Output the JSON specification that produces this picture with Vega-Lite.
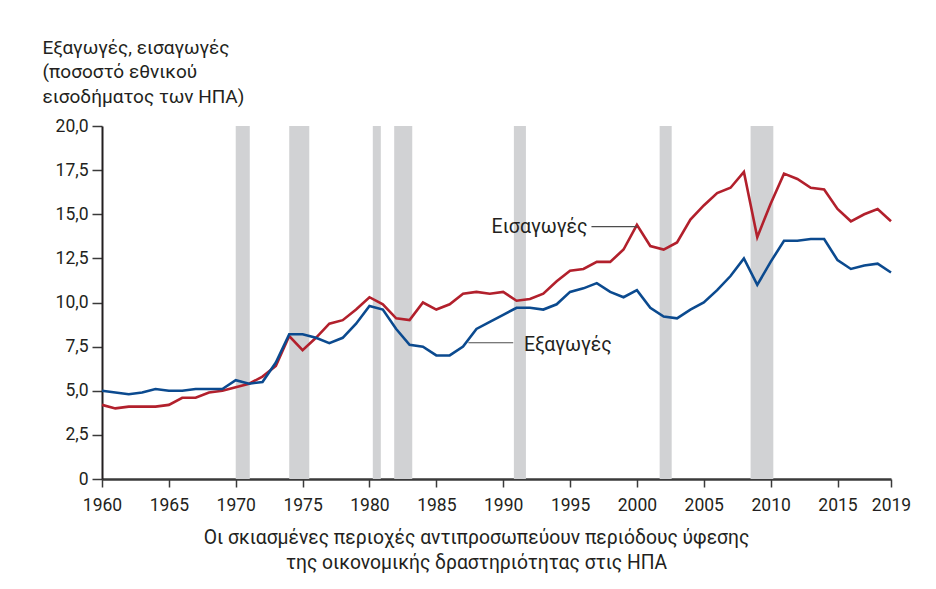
{
  "$schema": "https://vega.github.io/schema/vega-lite/v6.json",
  "width": 789,
  "height": 353,
  "autosize": {"type": "none"},
  "padding": {"left": 102, "top": 126, "right": 45, "bottom": 110},
  "background": "white",
  "config": {
    "view": {"stroke": null},
    "font": "Roboto",
    "axis": {"grid": false, "labelFont": "Roboto", "titleFont": "Roboto", "labelColor": "#231f20", "titleColor": "#231f20", "titleFontWeight": "normal"}
  },
  "datasets": {
    "rec": [
      {"start": 1970.0, "end": 1971.05},
      {"start": 1974.0, "end": 1975.5},
      {"start": 1980.25, "end": 1980.85},
      {"start": 1981.85, "end": 1983.2},
      {"start": 1990.8, "end": 1991.7},
      {"start": 2001.7, "end": 2002.6},
      {"start": 2008.5, "end": 2010.2}
    ],
    "series": [
      {"year": 1960, "s": "Εισαγωγές", "v": 4.2}, {"year": 1961, "s": "Εισαγωγές", "v": 4.0}, {"year": 1962, "s": "Εισαγωγές", "v": 4.1}, {"year": 1963, "s": "Εισαγωγές", "v": 4.1}, {"year": 1964, "s": "Εισαγωγές", "v": 4.1}, {"year": 1965, "s": "Εισαγωγές", "v": 4.2}, {"year": 1966, "s": "Εισαγωγές", "v": 4.6}, {"year": 1967, "s": "Εισαγωγές", "v": 4.6}, {"year": 1968, "s": "Εισαγωγές", "v": 4.9}, {"year": 1969, "s": "Εισαγωγές", "v": 5.0},
      {"year": 1970, "s": "Εισαγωγές", "v": 5.2}, {"year": 1971, "s": "Εισαγωγές", "v": 5.4}, {"year": 1972, "s": "Εισαγωγές", "v": 5.8}, {"year": 1973, "s": "Εισαγωγές", "v": 6.4}, {"year": 1974, "s": "Εισαγωγές", "v": 8.1}, {"year": 1975, "s": "Εισαγωγές", "v": 7.3}, {"year": 1976, "s": "Εισαγωγές", "v": 8.0}, {"year": 1977, "s": "Εισαγωγές", "v": 8.8}, {"year": 1978, "s": "Εισαγωγές", "v": 9.0}, {"year": 1979, "s": "Εισαγωγές", "v": 9.6},
      {"year": 1980, "s": "Εισαγωγές", "v": 10.3}, {"year": 1981, "s": "Εισαγωγές", "v": 9.9}, {"year": 1982, "s": "Εισαγωγές", "v": 9.1}, {"year": 1983, "s": "Εισαγωγές", "v": 9.0}, {"year": 1984, "s": "Εισαγωγές", "v": 10.0}, {"year": 1985, "s": "Εισαγωγές", "v": 9.6}, {"year": 1986, "s": "Εισαγωγές", "v": 9.9}, {"year": 1987, "s": "Εισαγωγές", "v": 10.5}, {"year": 1988, "s": "Εισαγωγές", "v": 10.6}, {"year": 1989, "s": "Εισαγωγές", "v": 10.5},
      {"year": 1990, "s": "Εισαγωγές", "v": 10.6}, {"year": 1991, "s": "Εισαγωγές", "v": 10.1}, {"year": 1992, "s": "Εισαγωγές", "v": 10.2}, {"year": 1993, "s": "Εισαγωγές", "v": 10.5}, {"year": 1994, "s": "Εισαγωγές", "v": 11.2}, {"year": 1995, "s": "Εισαγωγές", "v": 11.8}, {"year": 1996, "s": "Εισαγωγές", "v": 11.9}, {"year": 1997, "s": "Εισαγωγές", "v": 12.3}, {"year": 1998, "s": "Εισαγωγές", "v": 12.3}, {"year": 1999, "s": "Εισαγωγές", "v": 13.0},
      {"year": 2000, "s": "Εισαγωγές", "v": 14.4}, {"year": 2001, "s": "Εισαγωγές", "v": 13.2}, {"year": 2002, "s": "Εισαγωγές", "v": 13.0}, {"year": 2003, "s": "Εισαγωγές", "v": 13.4}, {"year": 2004, "s": "Εισαγωγές", "v": 14.7}, {"year": 2005, "s": "Εισαγωγές", "v": 15.5}, {"year": 2006, "s": "Εισαγωγές", "v": 16.2}, {"year": 2007, "s": "Εισαγωγές", "v": 16.5}, {"year": 2008, "s": "Εισαγωγές", "v": 17.4}, {"year": 2009, "s": "Εισαγωγές", "v": 13.7},
      {"year": 2010, "s": "Εισαγωγές", "v": 15.6}, {"year": 2011, "s": "Εισαγωγές", "v": 17.3}, {"year": 2012, "s": "Εισαγωγές", "v": 17.0}, {"year": 2013, "s": "Εισαγωγές", "v": 16.5}, {"year": 2014, "s": "Εισαγωγές", "v": 16.4}, {"year": 2015, "s": "Εισαγωγές", "v": 15.3}, {"year": 2016, "s": "Εισαγωγές", "v": 14.6}, {"year": 2017, "s": "Εισαγωγές", "v": 15.0}, {"year": 2018, "s": "Εισαγωγές", "v": 15.3}, {"year": 2019, "s": "Εισαγωγές", "v": 14.6},
      {"year": 1960, "s": "Εξαγωγές", "v": 5.0}, {"year": 1961, "s": "Εξαγωγές", "v": 4.9}, {"year": 1962, "s": "Εξαγωγές", "v": 4.8}, {"year": 1963, "s": "Εξαγωγές", "v": 4.9}, {"year": 1964, "s": "Εξαγωγές", "v": 5.1}, {"year": 1965, "s": "Εξαγωγές", "v": 5.0}, {"year": 1966, "s": "Εξαγωγές", "v": 5.0}, {"year": 1967, "s": "Εξαγωγές", "v": 5.1}, {"year": 1968, "s": "Εξαγωγές", "v": 5.1}, {"year": 1969, "s": "Εξαγωγές", "v": 5.1},
      {"year": 1970, "s": "Εξαγωγές", "v": 5.6}, {"year": 1971, "s": "Εξαγωγές", "v": 5.4}, {"year": 1972, "s": "Εξαγωγές", "v": 5.5}, {"year": 1973, "s": "Εξαγωγές", "v": 6.6}, {"year": 1974, "s": "Εξαγωγές", "v": 8.2}, {"year": 1975, "s": "Εξαγωγές", "v": 8.2}, {"year": 1976, "s": "Εξαγωγές", "v": 8.0}, {"year": 1977, "s": "Εξαγωγές", "v": 7.7}, {"year": 1978, "s": "Εξαγωγές", "v": 8.0}, {"year": 1979, "s": "Εξαγωγές", "v": 8.8},
      {"year": 1980, "s": "Εξαγωγές", "v": 9.8}, {"year": 1981, "s": "Εξαγωγές", "v": 9.6}, {"year": 1982, "s": "Εξαγωγές", "v": 8.5}, {"year": 1983, "s": "Εξαγωγές", "v": 7.6}, {"year": 1984, "s": "Εξαγωγές", "v": 7.5}, {"year": 1985, "s": "Εξαγωγές", "v": 7.0}, {"year": 1986, "s": "Εξαγωγές", "v": 7.0}, {"year": 1987, "s": "Εξαγωγές", "v": 7.5}, {"year": 1988, "s": "Εξαγωγές", "v": 8.5}, {"year": 1989, "s": "Εξαγωγές", "v": 8.9},
      {"year": 1990, "s": "Εξαγωγές", "v": 9.3}, {"year": 1991, "s": "Εξαγωγές", "v": 9.7}, {"year": 1992, "s": "Εξαγωγές", "v": 9.7}, {"year": 1993, "s": "Εξαγωγές", "v": 9.6}, {"year": 1994, "s": "Εξαγωγές", "v": 9.9}, {"year": 1995, "s": "Εξαγωγές", "v": 10.6}, {"year": 1996, "s": "Εξαγωγές", "v": 10.8}, {"year": 1997, "s": "Εξαγωγές", "v": 11.1}, {"year": 1998, "s": "Εξαγωγές", "v": 10.6}, {"year": 1999, "s": "Εξαγωγές", "v": 10.3},
      {"year": 2000, "s": "Εξαγωγές", "v": 10.7}, {"year": 2001, "s": "Εξαγωγές", "v": 9.7}, {"year": 2002, "s": "Εξαγωγές", "v": 9.2}, {"year": 2003, "s": "Εξαγωγές", "v": 9.1}, {"year": 2004, "s": "Εξαγωγές", "v": 9.6}, {"year": 2005, "s": "Εξαγωγές", "v": 10.0}, {"year": 2006, "s": "Εξαγωγές", "v": 10.7}, {"year": 2007, "s": "Εξαγωγές", "v": 11.5}, {"year": 2008, "s": "Εξαγωγές", "v": 12.5}, {"year": 2009, "s": "Εξαγωγές", "v": 11.0},
      {"year": 2010, "s": "Εξαγωγές", "v": 12.3}, {"year": 2011, "s": "Εξαγωγές", "v": 13.5}, {"year": 2012, "s": "Εξαγωγές", "v": 13.5}, {"year": 2013, "s": "Εξαγωγές", "v": 13.6}, {"year": 2014, "s": "Εξαγωγές", "v": 13.6}, {"year": 2015, "s": "Εξαγωγές", "v": 12.4}, {"year": 2016, "s": "Εξαγωγές", "v": 11.9}, {"year": 2017, "s": "Εξαγωγές", "v": 12.1}, {"year": 2018, "s": "Εξαγωγές", "v": 12.2}, {"year": 2019, "s": "Εξαγωγές", "v": 11.7}
    ],
    "leaders": [
      {"x": 1996.6, "x2": 2000.0, "y": 14.3},
      {"x": 1987.4, "x2": 1990.75, "y": 7.72}
    ],
    "labels": [
      {"x": 1996.3, "y": 14.3, "t": "Εισαγωγές", "a": "right"},
      {"x": 1991.55, "y": 7.62, "t": "Εξαγωγές", "a": "left"}
    ]
  },
  "layer": [
    {
      "data": {"name": "rec"},
      "mark": {"type": "rect", "color": "#d1d2d4"},
      "encoding": {
        "x": {
          "field": "start", "type": "quantitative",
          "scale": {"domain": [1960, 2019], "nice": false, "zero": false},
          "axis": {
            "values": [1960, 1965, 1970, 1975, 1980, 1985, 1990, 1995, 2000, 2005, 2010, 2015, 2019],
            "format": "d",
            "labelFontSize": 17.5,
            "labelPadding": 9,
            "tickSize": 8,
            "tickWidth": 1.5,
            "tickColor": "#3a3a3a",
            "domainColor": "#3a3a3a",
            "domainWidth": 2.5,
            "labelFlush": false,
            "title": ["Οι σκιασμένες περιοχές αντιπροσωπεύουν περιόδους ύφεσης", "της οικονομικής δραστηριότητας στις ΗΠΑ"],
            "titleFontSize": 19.3,
            "titleX": 374,
            "titleY": 64,
            "titleAlign": "center",
            "titleBaseline": "alphabetic",
            "titleLineHeight": 25
          }
        },
        "x2": {"field": "end"}
      }
    },
    {
      "data": {"name": "series"},
      "transform": [{"filter": "datum.s == 'Εισαγωγές'"}],
      "mark": {"type": "line", "color": "#b2202c", "strokeWidth": 2.6},
      "encoding": {
        "x": {"field": "year", "type": "quantitative"},
        "y": {
          "field": "v", "type": "quantitative",
          "scale": {"domain": [0, 20], "nice": false},
          "axis": {
            "values": [0, 2.5, 5, 7.5, 10, 12.5, 15, 17.5, 20],
            "labelExpr": "datum.value == 0 ? '0' : replace(format(datum.value, '.1f'), '.', ',')",
            "labelFontSize": 17.5,
            "labelPadding": 4,
            "tickSize": 10,
            "tickWidth": 1.5,
            "tickColor": "#3a3a3a",
            "domainColor": "#231f20",
            "domainWidth": 2,
            "labelFlush": false,
            "title": ["Εξαγωγές, εισαγωγές", "\u00a0(ποσοστό εθνικού", "εισοδήματος των ΗΠΑ)"],
            "titleFontSize": 19,
            "titleAngle": 0,
            "titleAlign": "left",
            "titleBaseline": "alphabetic",
            "titleX": -60,
            "titleY": -73,
            "titleLineHeight": 24.5
          }
        }
      }
    },
    {
      "data": {"name": "series"},
      "transform": [{"filter": "datum.s == 'Εξαγωγές'"}],
      "mark": {"type": "line", "color": "#0b4a8f", "strokeWidth": 2.6},
      "encoding": {
        "x": {"field": "year", "type": "quantitative"},
        "y": {"field": "v", "type": "quantitative"}
      }
    },
    {
      "data": {"name": "leaders"},
      "mark": {"type": "rule", "color": "#4d4d4d", "strokeWidth": 1.2},
      "encoding": {
        "x": {"field": "x", "type": "quantitative"},
        "x2": {"field": "x2"},
        "y": {"field": "y", "type": "quantitative"}
      }
    },
    {
      "data": {"name": "labels"},
      "transform": [{"filter": "datum.a == 'right'"}],
      "mark": {"type": "text", "fontSize": 19.5, "color": "#231f20", "baseline": "middle", "align": "right"},
      "encoding": {
        "x": {"field": "x", "type": "quantitative"},
        "y": {"field": "y", "type": "quantitative"},
        "text": {"field": "t"}
      }
    },
    {
      "data": {"name": "labels"},
      "transform": [{"filter": "datum.a == 'left'"}],
      "mark": {"type": "text", "fontSize": 19.5, "color": "#231f20", "baseline": "middle", "align": "left"},
      "encoding": {
        "x": {"field": "x", "type": "quantitative"},
        "y": {"field": "y", "type": "quantitative"},
        "text": {"field": "t"}
      }
    }
  ]
}
